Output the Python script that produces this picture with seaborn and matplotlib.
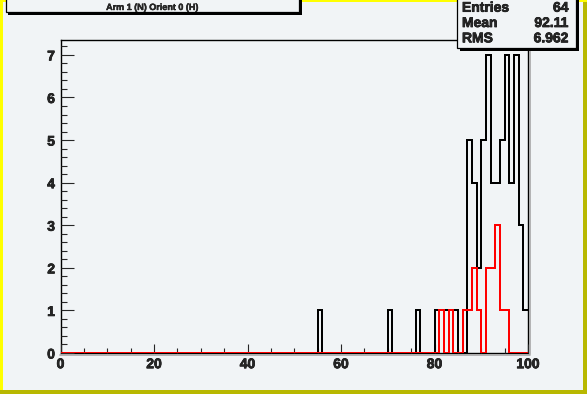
import numpy as np
import pandas as pd
import matplotlib.pyplot as plt
import seaborn as sns
import matplotlib.patheffects as pe
from matplotlib.patches import Rectangle
from matplotlib.lines import Line2D
from matplotlib.ticker import MultipleLocator

sns.set_style('ticks')
plt.rcParams['font.family'] = ['Liberation Sans', 'DejaVu Sans']

# left edge of each non-empty bin (bin width 1) and its count
black_bins = [55, 70, 76, 80, 81, 82, 83, 84, 87, 88, 89, 90, 91, 92, 93, 94, 95, 96, 97, 98, 99]
black_counts = [1, 1, 1, 1, 1, 1, 1, 1, 5, 4, 2, 5, 7, 4, 4, 5, 7, 4, 7, 3, 1]
red_bins = [81, 83, 86, 87, 88, 89, 91, 92, 93, 94, 95]
red_counts = [1, 1, 1, 1, 2, 1, 2, 2, 3, 1, 1]

title = 'Arm 1 (N) Orient 0 (H)'
stat_names = ['Entries', 'Mean', 'RMS']
stat_values = ['64', '92.11', '6.962']

W, H = 587, 394
bg = '#f1f4f6'
heavy = [pe.withStroke(linewidth=0.5, foreground='black')]


def fx(x):
    return x / W


def fy(y):
    # image pixel row (from top) -> figure fraction
    return 1 - y / H


df_black = pd.DataFrame({'x': np.array(black_bins) + 0.5, 'w': black_counts})
df_red = pd.DataFrame({'x': np.array(red_bins) + 0.5, 'w': red_counts})

fig = plt.figure(figsize=(W / 100, H / 100), dpi=100, facecolor=bg)

# canvas bevel border
fig.patches.append(Rectangle((0, fy(2)), 1, 2 / H, transform=fig.transFigure, color='#ffff00', lw=0))
fig.patches.append(Rectangle((0, 0), 2.5 / W, 1, transform=fig.transFigure, color='#ffff00', lw=0))
fig.patches.append(Rectangle((0, 0), 1, 4 / H, transform=fig.transFigure, color='#b8b800', lw=0))
fig.patches.append(Rectangle((fx(583), 0), 4 / W, fy(2), transform=fig.transFigure, color='#b8b800', lw=0))

ax = fig.add_axes([fx(60.5), fy(353), (528 - 60.5) / W, (353 - 40) / H])
ax.set_facecolor(bg)

sns.histplot(data=df_black, x='x', weights='w', binwidth=1, binrange=(0, 100),
             element='step', fill=False, color='black', lw=1.1, antialiased=False, ax=ax)
sns.histplot(data=df_red, x='x', weights='w', binwidth=1, binrange=(0, 100),
             element='step', fill=False, color='red', lw=1.1, antialiased=False, ax=ax)

ax.set_xlim(0, 100)
ax.set_ylim(0, 7.35)
ax.set_xlabel('')
ax.set_ylabel('')
for s in ax.spines.values():
    s.set_linewidth(1.0)
    s.set_color('black')
    s.set_zorder(0.5)

ax.xaxis.set_major_locator(MultipleLocator(20))
ax.xaxis.set_minor_locator(MultipleLocator(5))
ax.yaxis.set_major_locator(MultipleLocator(1))
ax.yaxis.set_minor_locator(MultipleLocator(0.2))
ax.tick_params(axis='x', which='major', direction='in', length=6.5, width=0.8, pad=3, labelsize=10)
ax.tick_params(axis='x', which='minor', direction='in', length=3.6, width=0.8)
ax.tick_params(axis='y', which='major', direction='in', length=9.5, width=0.8, pad=4, labelsize=10)
ax.tick_params(axis='y', which='minor', direction='in', length=4.5, width=0.8)
for lab in ax.get_xticklabels() + ax.get_yticklabels():
    lab.set_fontweight('bold')
    lab.set_path_effects(heavy)

# frame shadow (right and bottom)
fig.lines.append(Line2D([fx(530), fx(530)], [fy(353.5), fy(40)], transform=fig.transFigure,
                        color='#a8a8a8', lw=1.2))
fig.lines.append(Line2D([fx(60), fx(530)], [fy(355), fy(355)], transform=fig.transFigure,
                        color='#a8a8a8', lw=1.2))

# title box
fig.patches.append(Rectangle((fx(8), fy(14.5)), (302 - 8) / W, 20 / H, transform=fig.transFigure,
                             color='black', lw=0, zorder=5))
fig.patches.append(Rectangle((fx(6), fy(12)), (299 - 6) / W, 20 / H, transform=fig.transFigure,
                             facecolor=bg, edgecolor='black', lw=0.9, zorder=6))
fig.text(fx(152.5), fy(7.5), title, ha='center', va='center', fontsize=6.5,
         fontweight='bold', zorder=7, path_effects=[pe.withStroke(linewidth=0.3, foreground='black')])

# stats box
fig.patches.append(Rectangle((fx(459.5), fy(51)), (579 - 459.5) / W, 60 / H, transform=fig.transFigure,
                             color='black', lw=0, zorder=5))
fig.patches.append(Rectangle((fx(457), fy(48)), (576 - 457) / W, 60 / H, transform=fig.transFigure,
                             facecolor=bg, edgecolor='black', lw=0.9, zorder=6))
for i, (name, val) in enumerate(zip(stat_names, stat_values)):
    yb = fy(11.7 + 15.3 * i)
    fig.text(fx(462), yb, name, ha='left', va='baseline', fontsize=10, fontweight='bold',
             zorder=7, path_effects=heavy)
    fig.text(fx(568.5), yb, val, ha='right', va='baseline', fontsize=10, fontweight='bold',
             zorder=7, path_effects=heavy)

fig.savefig('out.png', dpi=100, facecolor=bg)
